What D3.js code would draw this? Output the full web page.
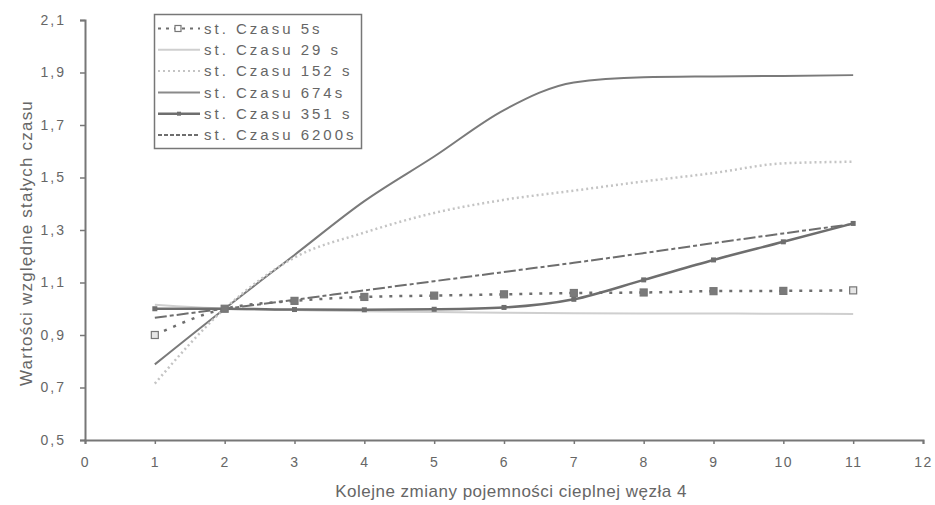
<!DOCTYPE html>
<html><head><meta charset="utf-8">
<script src="https://cdn.jsdelivr.net/npm/d3@7"></script>
<style>
html,body{margin:0;padding:0;background:#fff;}
svg{display:block;font-family:Arial,"Liberation Sans",sans-serif;}
</style></head>
<body><svg id="c" width="935" height="505"></svg>
<script>
const xValues = [1,2,3,4,5,6,7,8,9,10,11];
const seriesNames = ["st. Czasu 5s","st. Czasu 29 s","st. Czasu 152 s","st. Czasu 674s","st. Czasu 351 s","st. Czasu 6200s"];
const s5    = [0.90,1.00,1.030,1.045,1.050,1.055,1.060,1.062,1.067,1.068,1.070];
const s29   = [1.015,1.00,0.995,0.990,0.988,0.985,0.983,0.982,0.982,0.981,0.980];
const s152  = [0.715,1.00,1.195,1.290,1.365,1.415,1.450,1.485,1.517,1.554,1.560];
const s674  = [0.788,1.00,1.205,1.410,1.580,1.757,1.862,1.882,1.885,1.887,1.890];
const s351  = [1.00,1.00,0.997,0.996,0.998,1.005,1.036,1.110,1.186,1.255,1.325];
const s6200 = [0.966,1.00,1.034,1.070,1.105,1.140,1.175,1.212,1.250,1.287,1.323];
const xTicks = [0,1,2,3,4,5,6,7,8,9,10,11,12];
const yTicks = [0.5,0.7,0.9,1.1,1.3,1.5,1.7,1.9,2.1];
const xTitle = "Kolejne zmiany pojemności cieplnej węzła 4";
const yTitle = "Wartości względne stałych czasu";

const svg = d3.select("#c");
const x = d3.scaleLinear().domain([0,12]).range([85,923]);
const y = d3.scaleLinear().domain([0.5,2.1]).range([440,20]);
const fmt = v => d3.format(".1f")(v).replace(".", ",");

// axes
const ya = svg.append("g").attr("transform","translate(85,0)")
  .call(d3.axisLeft(y).tickValues(yTicks).tickFormat(fmt).tickSize(5).tickPadding(14));
ya.select(".domain").attr("stroke","#777").attr("stroke-width",2);
ya.selectAll(".tick line").attr("stroke","#777").attr("stroke-width",1.5);
ya.selectAll("text").attr("fill","#666").style("font-size","14px").style("letter-spacing","2px");

const xa = svg.append("g").attr("transform","translate(0,440)")
  .call(d3.axisBottom(x).tickValues(xTicks).tickFormat(d3.format("d")).tickSize(4).tickPadding(13));
xa.select(".domain").attr("stroke","#777").attr("stroke-width",2);
xa.selectAll(".tick line").attr("stroke","#777").attr("stroke-width",1.5);
xa.selectAll("text").attr("fill","#666").style("font-size","14px").style("letter-spacing","1.5px");

svg.append("text").attr("x",511).attr("y",497).attr("text-anchor","middle")
  .attr("fill","#666").style("font-size","17px").style("letter-spacing","0.5px").text(xTitle);
svg.append("text").attr("transform","translate(32,243) rotate(-90)").attr("text-anchor","middle")
  .attr("fill","#666").style("font-size","17px").style("letter-spacing","1.2px").text(yTitle);

// series
const series = [
  {name:seriesNames[3], vals:s674, color:"#7a7a7a", w:2, dash:null},
  {name:seriesNames[2], vals:s152, color:"#c4c4c4", w:2.5, dash:"2,3"},
  {name:seriesNames[1], vals:s29, color:"#cfcfcf", w:2, dash:null},
  {name:seriesNames[5], vals:s6200, color:"#6e6e6e", w:2, dash:"12,3,4,3"},
  {name:seriesNames[4], vals:s351, color:"#6e6e6e", w:2.5, dash:null, marker:"small"},
  {name:seriesNames[0], vals:s5, color:"#6e6e6e", w:2.5, dash:"3,7", marker:"square"}
];
const line = d3.line().x(d=>x(d[0])).y(d=>y(d[1])).curve(d3.curveMonotoneX);
series.forEach(s=>{
  const pts = xValues.map((xv,i)=>[xv,s.vals[i]]);
  svg.append("path").attr("d",line(pts)).attr("fill","none").attr("stroke",s.color)
    .attr("stroke-width",s.w).attr("stroke-dasharray",s.dash);
  if(s.marker==="square"){
    svg.append("g").selectAll("rect").data(pts).join("rect")
      .attr("x",d=>x(d[0])-3.5).attr("y",d=>y(d[1])-3.5).attr("width",7).attr("height",7)
      .attr("fill",(d,i)=>(i===0||i===10)?"#e6e6e6":"#7a7a7a").attr("stroke","#777").attr("stroke-width",1.2);
  }
  if(s.marker==="small"){
    svg.append("g").selectAll("rect").data(pts).join("rect")
      .attr("x",d=>x(d[0])-2.5).attr("y",d=>y(d[1])-2.5).attr("width",5).attr("height",5)
      .attr("fill","#6e6e6e");
  }
});

// legend
const legendOrder = [
  {name:seriesNames[0], color:"#6e6e6e", w:2, dash:"3,5", marker:"hollow"},
  {name:seriesNames[1], color:"#cfcfcf", w:2, dash:null},
  {name:seriesNames[2], color:"#c4c4c4", w:2, dash:"2,3"},
  {name:seriesNames[3], color:"#8a8a8a", w:2, dash:null},
  {name:seriesNames[4], color:"#6e6e6e", w:2.5, dash:null, marker:"small"},
  {name:seriesNames[5], color:"#6e6e6e", w:2, dash:"4,2"}
];
const lg = svg.append("g");
lg.append("rect").attr("x",154.5).attr("y",14.5).attr("width",207).attr("height",134)
  .attr("fill","#fff").attr("stroke","#777").attr("stroke-width",1.5);
legendOrder.forEach((s,i)=>{
  const cy = 28.5 + i*21.3;
  lg.append("line").attr("x1",158).attr("x2",200).attr("y1",cy).attr("y2",cy)
    .attr("stroke",s.color).attr("stroke-width",s.w).attr("stroke-dasharray",s.dash);
  if(s.marker==="hollow"){
    lg.append("rect").attr("x",175).attr("y",cy-3).attr("width",6).attr("height",6)
      .attr("fill","#fff").attr("stroke","#777").attr("stroke-width",1.2);
  }
  if(s.marker==="small"){
    lg.append("rect").attr("x",177).attr("y",cy-2).attr("width",4).attr("height",4).attr("fill","#6e6e6e");
  }
  lg.append("text").attr("x",204).attr("y",cy).attr("dy","0.35em").attr("fill","#666")
    .style("font-size","15px").style("letter-spacing","3px").text(s.name);
});
</script></body></html>
